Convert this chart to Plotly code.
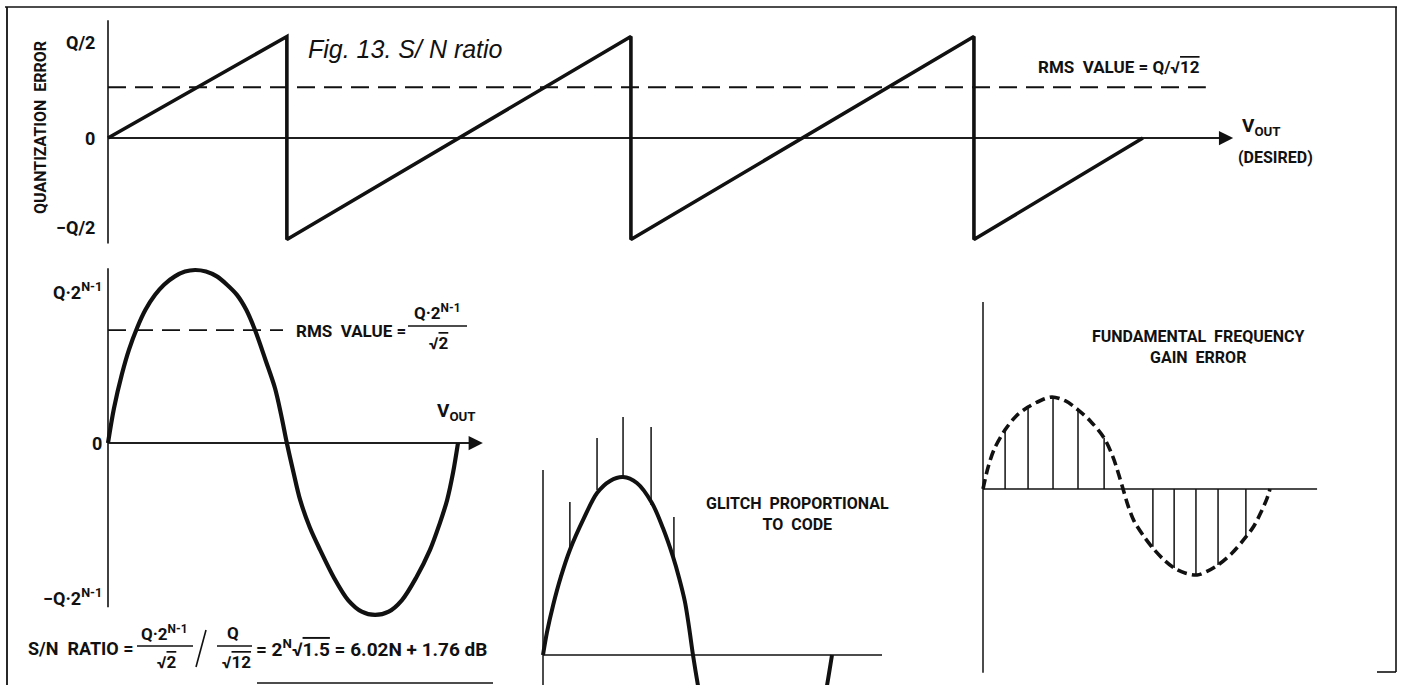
import plotly.graph_objects as go

W, H = 1401, 685

# ---------------- data ----------------
# Panel A: quantization error vs V_OUT (x in LSB steps, y in units of Q)
saw_x = [0, 0.523, 0.523, 1.529, 1.529, 2.532, 2.532, 3.026]
saw_y = [0, 0.5, -0.5, 0.5, -0.5, 0.5, -0.5, 0]
saw_rms = 0.25
saw_rms_end = 3.21
saw_axis_top, saw_axis_bottom, saw_axis_end = 0.58, -0.52, 3.29
saw_tick_vals = [0.47, 0.0, -0.44]
saw_tick_labels = ["Q/2", "0", "−Q/2"]

# Panel B: full-scale sine (x in cycles, y in units of Q·2^(N-1))
sine_x = [0, 0.017, 0.040, 0.060, 0.083, 0.107, 0.134, 0.160, 0.191, 0.220, 0.249,
          0.280, 0.311, 0.340, 0.369, 0.395, 0.420, 0.450, 0.477, 0.495, 0.511,
          0.530, 0.549, 0.577, 0.606, 0.646, 0.686, 0.725, 0.763, 0.802, 0.840,
          0.880, 0.920, 0.947, 0.969, 0.986, 1.0]
sine_y = [0, 0.20, 0.40, 0.54, 0.665, 0.77, 0.855, 0.915, 0.963, 0.991, 1.0,
          0.991, 0.963, 0.915, 0.855, 0.77, 0.653, 0.48, 0.318, 0.16, 0,
          -0.17, -0.329, -0.49, -0.618, -0.78, -0.908, -0.975, -0.994, -0.975, -0.908,
          -0.78, -0.618, -0.47, -0.329, -0.17, 0]
sine_rms = 0.653
sine_rms_end = 0.50
sine_axis_top, sine_axis_bottom, sine_axis_end = 1.01, -0.95, 1.071
sine_tick_vals = [0.88, 0.0, -0.89]
sine_tick_labels = ["Q·2<sup>N-1</sup>", "0", "−Q·2<sup>N-1</sup>"]

# Panel C: glitch proportional to code
glitch_x = [0, 0.014, 0.035, 0.062, 0.093, 0.142, 0.187, 0.232, 0.277, 0.325, 0.377,
            0.415, 0.450, 0.471, 0.491, 0.505, 0.519, 0.536, 0.556,
            None, 0.963, 0.983, 1.0]
glitch_y = [0, 0.13, 0.28, 0.44, 0.590, 0.770, 0.910, 0.978, 1.0, 0.966, 0.854,
            0.713, 0.551, 0.433, 0.30, 0.16, 0, -0.169, -0.35,
            None, -0.35, -0.169, 0]
glitch_code_x = [0.093, 0.187, 0.277, 0.374, 0.453]
glitch_base = [0.59, 0.927, 1.0, 0.843, 0.534]
glitch_top = [0.86, 1.219, 1.337, 1.281, 0.775]
glitch_axis_top, glitch_axis_bottom, glitch_axis_end = 1.04, -0.4, 1.173

# Panel D: fundamental frequency gain error
fund_x = [0, 0.017, 0.038, 0.077, 0.115, 0.157, 0.199, 0.240, 0.286, 0.331, 0.376,
          0.422, 0.453, 0.470, 0.488, 0.505, 0.526, 0.557, 0.592, 0.627, 0.666,
          0.704, 0.746, 0.784, 0.819, 0.868, 0.916, 0.944, 0.969, 0.990, 1.0]
fund_y = [0, 0.23, 0.43, 0.65, 0.80, 0.90, 0.97, 1.01, 0.97, 0.87, 0.74,
          0.56, 0.35, 0.19, 0, -0.18, -0.35, -0.505, -0.65, -0.768, -0.868,
          -0.923, -0.945, -0.90, -0.835, -0.703, -0.527, -0.407, -0.253, -0.10, 0]
gain_x = [0.077, 0.157, 0.244, 0.331, 0.422, 0.592, 0.666, 0.742, 0.819, 0.916]
gain_y = [0.648, 0.901, 1.0, 0.868, 0.560, -0.635, -0.868, -0.934, -0.835, -0.527]
fund_axis_top, fund_axis_bottom, fund_axis_end = 2.055, -2.02, 1.164

# ---------------- layout helpers ----------------
INK = "#111111"
COND = "Roboto, Liberation Sans Narrow, DejaVu Sans Condensed, sans-serif"
ITAL = "Liberation Sans, Arial, sans-serif"


def px(x):
    return x / W


def py(y):
    return 1 - y / H


# pixel calibration of each panel: (x origin px, px per x unit, y origin px, px per y unit)
CAL = {
    "": (108, 342, 138, 203),
    "2": (108, 350, 443, 173),
    "3": (543, 289, 655, 178),
    "4": (983, 287, 489, 91),
}

fig = go.Figure()


def ax_ranges(k):
    x0, sx, y0, sy = CAL[k]
    return [(0 - x0) / sx, (W - x0) / sx], [(y0 - H) / sy, y0 / sy]


def line(k, x, y, width, dash="solid", shape="linear"):
    fig.add_trace(go.Scatter(
        x=x, y=y, mode="lines", xaxis="x" + k, yaxis="y" + k,
        line=dict(color=INK, width=width, dash=dash, shape=shape,
                  smoothing=0.9 if shape == "spline" else None),
        hoverinfo="skip", showlegend=False, connectgaps=False))


def stems(k, xs, y0s, y1s, width):
    xx, yy = [], []
    for a, b, c in zip(xs, y0s, y1s):
        xx += [a, a, None]
        yy += [b, c, None]
    line(k, xx, yy, width)


def arrow(k, x_end):
    fig.add_annotation(x=x_end, y=0, ax=0, ay=0, xref="x" + k, yref="y" + k,
                       axref="x" + k, ayref="y" + k, text="", showarrow=True,
                       arrowhead=2, arrowsize=1.9, arrowwidth=1.5, arrowcolor=INK,
                       standoff=0, startstandoff=0)


def text(x, y, s, size=17, xanchor="center", family=COND, angle=0, yanchor="middle"):
    fig.add_annotation(x=px(x), y=py(y), xref="paper", yref="paper", text=s,
                       showarrow=False, xanchor=xanchor, yanchor=yanchor,
                       textangle=angle, borderpad=0,
                       font=dict(family=family, size=size, color=INK))


def pline(x0, y0, x1, y1, w=1.5):
    fig.add_shape(type="line", xref="paper", yref="paper", x0=px(x0), y0=py(y0),
                  x1=px(x1), y1=py(y1), line=dict(color=INK, width=w))


OV = "<span style='text-decoration:overline'>{}</span>"

# ---- Panel A ----
line("", [0, 0], [saw_axis_top, saw_axis_bottom], 1.6)
line("", [0, saw_axis_end - 0.03], [0, 0], 1.5)
arrow("", saw_axis_end)
line("", [0, saw_rms_end], [saw_rms, saw_rms], 1.8, dash="18px,9px")
line("", saw_x, saw_y, 3.6)
for v, lab in zip(saw_tick_vals, saw_tick_labels):
    x0, sx, y0, sy = CAL[""]
    text(96, y0 - sy * v, "<b>" + lab + "</b>", size=18, xanchor="right")
text(40, 128, "<b>QUANTIZATION  ERROR</b>", size=16, angle=-90)
text(307, 49, "<i>Fig. 13. S/ N ratio</i>", size=25, xanchor="left", family=ITAL)
text(1037, 67, "<b>RMS  VALUE = Q/√" + OV.format("12") + "</b>", size=17, xanchor="left")
text(1241, 127, "<b>V<sub>OUT</sub></b>", size=19, xanchor="left")
text(1275, 157, "<b>(DESIRED)</b>", size=16)

# ---- Panel B ----
line("2", [0, 0], [sine_axis_top, sine_axis_bottom], 1.6)
line("2", [0, sine_axis_end - 0.01], [0, 0], 1.5)
arrow("2", sine_axis_end)
line("2", [0, sine_rms_end], [sine_rms, sine_rms], 1.8, dash="18px,9px")
line("2", sine_x, sine_y, 4.2, shape="spline")
for v, lab in zip(sine_tick_vals, sine_tick_labels):
    x0, sx, y0, sy = CAL["2"]
    text(103, y0 - sy * v, "<b>" + lab + "</b>", size=18, xanchor="right")
text(295, 331, "<b>RMS  VALUE =</b>", size=17, xanchor="left")
text(437, 312, "<b>Q·2<sup>N-1</sup></b>", size=17)
pline(408, 326, 467, 326)
text(439, 343, "<b>√" + OV.format("2") + "</b>", size=17)
text(436, 411, "<b>V<sub>OUT</sub></b>", size=19, xanchor="left")

# S/N ratio formula
text(27, 648, "<b>S/N  RATIO =</b>", size=18, xanchor="left")
text(164, 633, "<b>Q·2<sup>N-1</sup></b>", size=17)
pline(137, 646, 193, 646)
text(167, 662, "<b>√" + OV.format("2") + "</b>", size=17)
pline(196, 667, 206, 630, 1.6)
text(233, 633, "<b>Q</b>", size=17)
pline(217, 646, 252, 646)
text(236, 662, "<b>√" + OV.format("12") + "</b>", size=17)
text(255, 648, "<b>= 2<sup>N</sup>√" + OV.format("1.5") + " = 6.02N + 1.76 dB</b>",
     size=19, xanchor="left")
pline(257, 683, 493, 683)

# ---- Panel C ----
line("3", [0, 0], [glitch_axis_top, glitch_axis_bottom], 1.5)
line("3", [0, glitch_axis_end], [0, 0], 1.5)
stems("3", glitch_code_x, glitch_base, glitch_top, 1.5)
line("3", glitch_x, glitch_y, 4.0, shape="spline")
text(797, 514, "<b>GLITCH  PROPORTIONAL<br>TO  CODE</b>", size=16)

# ---- Panel D ----
line("4", [0, 0], [fund_axis_top, fund_axis_bottom], 1.5)
line("4", [0, fund_axis_end], [0, 0], 1.5)
stems("4", gain_x, [0] * len(gain_x), gain_y, 1.5)
line("4", fund_x, fund_y, 3.6, dash="10px,5px", shape="spline")
text(1198, 347, "<b>FUNDAMENTAL  FREQUENCY<br>GAIN  ERROR</b>", size=16)

# ---- frame ----
pline(5, 7, 1397, 7, 1.6)
pline(7, 7, 7, 685, 1.8)
pline(1396, 7, 1396, 672, 1.6)
pline(1377, 672, 1396, 672, 1.6)

# ---- axes ----
lay = dict(width=W, height=H, margin=dict(l=0, r=0, t=0, b=0),
           paper_bgcolor="white", plot_bgcolor="rgba(0,0,0,0)", showlegend=False)
for k in CAL:
    xr, yr = ax_ranges(k)
    lay["xaxis" + k] = dict(domain=[0, 1], range=xr, visible=False, fixedrange=True,
                            anchor="y" + k)
    lay["yaxis" + k] = dict(domain=[0, 1], range=yr, visible=False, fixedrange=True,
                            anchor="x" + k)
fig.update_layout(**lay)
fig.write_html("out.html",
               config={"displayModeBar": False, "staticPlot": True},
               post_script="document.body.style.margin='0';"
                           "document.body.style.overflow='hidden';")
